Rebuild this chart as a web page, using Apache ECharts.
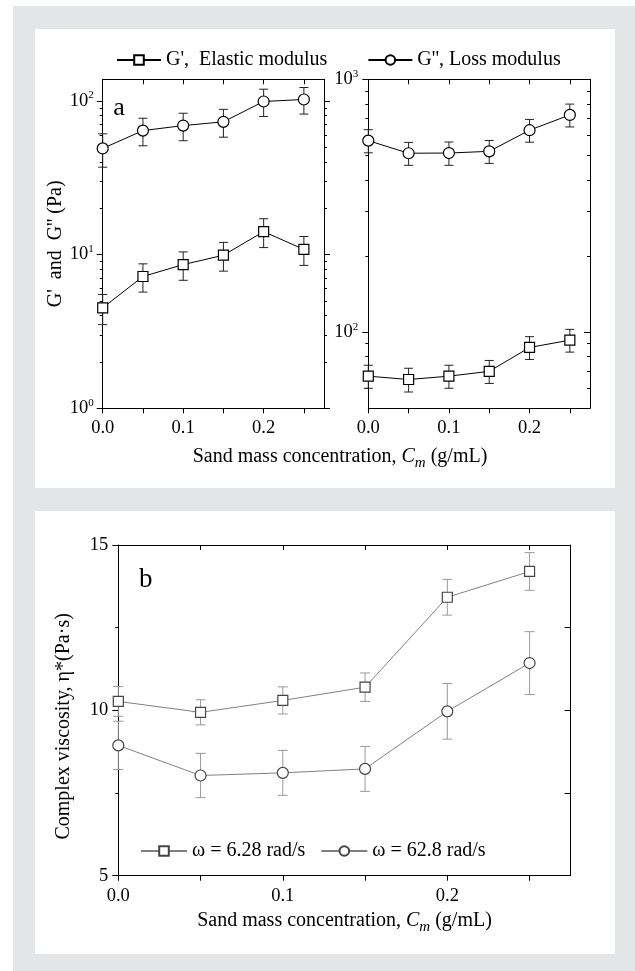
<!DOCTYPE html>
<html>
<head>
<meta charset="utf-8">
<script src="https://cdn.jsdelivr.net/npm/echarts@6/dist/echarts.min.js"></script>
<style>
html,body{margin:0;padding:0;background:#fff;width:635px;height:971px;overflow:hidden;}
#bg{position:absolute;left:13px;top:6px;right:0;bottom:0;background:#e4e5e7;}
.panel{position:absolute;left:35px;width:580px;background:#fff;}
#pa{top:29px;height:459px;}
#pb{top:511px;height:443px;}
#chart{position:absolute;left:0;top:0;width:635px;height:971px;}
</style>
</head>
<body>
<div id="bg"></div>
<div class="panel" id="pa"></div>
<div class="panel" id="pb"></div>
<div id="chart"></div>
<script>
// ---------- data ----------
const concentrations = [0, 0.05, 0.1, 0.15, 0.2, 0.25];

// Panel a, left plot
const gPrimeLeft = [4.5, 7.2, 8.6, 9.9, 14.1, 10.8];
const gPrimeLeftErr = [1.0, 1.5, 1.8, 2.1, 3.0, 2.3];
const gDoubleLeft = [49, 64, 69, 73, 99, 102];
const gDoubleLeftErr = [12, 13, 14, 15, 20, 20];

// Panel a, right plot
const gPrimeRight = [67, 65, 67, 70, 87, 93];
const gPrimeRightErr = [7, 7, 7, 7.3, 9, 9.6];
const gDoubleRight = [572, 510, 511, 519, 629, 723];
const gDoubleRightErr = [60, 53, 54, 54, 65, 75];

// Panel b
const etaLow = [10.27, 9.94, 10.30, 10.70, 13.42, 14.20];
const etaLowErr = [0.45, 0.38, 0.41, 0.43, 0.54, 0.57];
const etaHigh = [8.94, 8.03, 8.11, 8.23, 9.97, 11.43];
const etaHighErr = [0.73, 0.67, 0.68, 0.68, 0.84, 0.95];

// Ticks and labels
const xTickValues = [0, 0.05, 0.1, 0.15, 0.2, 0.25];
const xLabelValues = [0, 0.1, 0.2];
const xRange = [0, 0.275];
const leftLogRange = [1, 138];
const rightLogRange = [50, 1000];
const leftDecadeExponents = [0, 1, 2];
const rightDecadeExponents = [2, 3];
const leftMinorTicks = [2, 3, 4, 5, 6, 7, 8, 9, 20, 30, 40, 50, 60, 70, 80, 90];
const rightMinorTicks = [60, 70, 80, 90, 200, 300, 400, 500, 600, 700, 800, 900];
const etaRange = [5, 15];
const etaInterval = 5;

const NAME_GP = "G',  Elastic modulus";
const NAME_GDP = "G'', Loss modulus";
const NAME_W1 = 'ω = 6.28 rad/s';
const NAME_W2 = 'ω = 62.8 rad/s';

// ---------- helpers ----------
const FONT = "'Liberation Serif', 'Times New Roman', serif";
const BLACK = '#000';
const TICK_FS = 18.5;

function pairs(xs, ys) { return xs.map((x, i) => [x, ys[i]]); }
function errData(xs, ys, es) { return xs.map((x, i) => [x, ys[i] - es[i], ys[i] + es[i]]); }

function errRender(capHalf, color) {
  return function (params, api) {
    const x = api.value(0);
    const lo = api.coord([x, api.value(1)]);
    const hi = api.coord([x, api.value(2)]);
    const style = { stroke: color, lineWidth: 1, fill: null };
    return {
      type: 'group',
      children: [
        { type: 'line', shape: { x1: lo[0], y1: lo[1], x2: hi[0], y2: hi[1] }, style: style },
        { type: 'line', shape: { x1: lo[0] - capHalf, y1: lo[1], x2: lo[0] + capHalf, y2: lo[1] }, style: style },
        { type: 'line', shape: { x1: hi[0] - capHalf, y1: hi[1], x2: hi[0] + capHalf, y2: hi[1] }, style: style }
      ]
    };
  };
}

const axisLineStyle = { color: BLACK, width: 1 };

function xAxesFor(gridIndex, labelMargin, extra) {
  const bottom = Object.assign({
    type: 'value', gridIndex: gridIndex, position: 'bottom',
    min: xRange[0], max: xRange[1],
    axisLine: { show: true, onZero: false, lineStyle: axisLineStyle },
    axisTick: { show: true, inside: false, length: 5, customValues: xTickValues, lineStyle: { color: BLACK } },
    axisLabel: { customValues: xLabelValues, formatter: v => v.toFixed(1), margin: labelMargin,
      color: BLACK, fontFamily: FONT, fontSize: TICK_FS },
    splitLine: { show: false }
  }, extra || {});
  const top = {
    type: 'value', gridIndex: gridIndex, position: 'top',
    min: xRange[0], max: xRange[1],
    axisLine: { show: true, onZero: false, lineStyle: axisLineStyle },
    axisTick: { show: true, inside: true, length: 5, customValues: xTickValues, lineStyle: { color: BLACK } },
    axisLabel: { show: false },
    splitLine: { show: false }
  };
  return [bottom, top];
}

const supRich = {
  b: { fontSize: TICK_FS, fontFamily: FONT, color: BLACK, lineHeight: 22 },
  s: { fontSize: 11, fontFamily: FONT, color: BLACK, lineHeight: 11, verticalAlign: 'top' }
};

function logYAxesFor(gridIndex, range, exps, minors, rightInside, labelMargin, nameOpts) {
  const lmin = Math.log10(range[0]), lmax = Math.log10(range[1]);
  const minorVals = minors.map(v => Math.log10(v));
  const dataAxis = Object.assign({
    type: 'log', logBase: 10, gridIndex: gridIndex, position: 'left',
    min: range[0], max: range[1],
    axisLine: { show: true, onZero: false, lineStyle: axisLineStyle },
    axisTick: { show: false }, axisLabel: { show: false }, splitLine: { show: false }
  }, nameOpts || {});
  const majorLeft = {
    type: 'value', gridIndex: gridIndex, position: 'left', min: lmin, max: lmax,
    axisLine: { show: false, onZero: false },
    axisTick: { show: true, inside: false, length: 6, customValues: exps, lineStyle: { color: BLACK } },
    axisLabel: { customValues: exps, margin: labelMargin, formatter: v => '{b|10}{s|' + Math.round(v) + '}', rich: supRich },
    splitLine: { show: false }
  };
  const minorLeft = {
    type: 'value', gridIndex: gridIndex, position: 'left', min: lmin, max: lmax,
    axisLine: { show: false, onZero: false },
    axisTick: { show: true, inside: false, length: 3, customValues: minorVals, lineStyle: { color: BLACK } },
    axisLabel: { show: false }, splitLine: { show: false }
  };
  const majorRight = {
    type: 'value', gridIndex: gridIndex, position: 'right', min: lmin, max: lmax,
    axisLine: { show: true, onZero: false, lineStyle: axisLineStyle },
    axisTick: { show: true, inside: rightInside, length: 6, customValues: exps, lineStyle: { color: BLACK } },
    axisLabel: { show: false }, splitLine: { show: false }
  };
  const minorRight = {
    type: 'value', gridIndex: gridIndex, position: 'right', min: lmin, max: lmax,
    axisLine: { show: false, onZero: false },
    axisTick: { show: true, inside: rightInside, length: 3, customValues: minorVals, lineStyle: { color: BLACK } },
    axisLabel: { show: false }, splitLine: { show: false }
  };
  return [dataAxis, majorLeft, minorLeft, majorRight, minorRight];
}

function lineSeries(name, xi, yi, ys, symbol, size, lineColor, borderColor) {
  return {
    type: 'line', name: name, xAxisIndex: xi, yAxisIndex: yi,
    data: pairs(concentrations, ys),
    symbol: symbol, symbolSize: size, showSymbol: true, showAllSymbol: true,
    lineStyle: { color: lineColor, width: 1 },
    itemStyle: { color: '#fff', borderColor: borderColor, borderWidth: 1.2 },
    emphasis: { disabled: true },
    z: 3
  };
}
function errSeries(name, xi, yi, ys, es, color, capHalf) {
  return {
    type: 'custom', name: name, xAxisIndex: xi, yAxisIndex: yi,
    data: errData(concentrations, ys, es),
    encode: { x: 0, y: [1, 2] },
    renderItem: errRender(capHalf, color),
    silent: true, z: 1
  };
}

const nameRich = {
  t: { fontSize: 20, fontFamily: FONT, lineHeight: 28 },
  i: { fontSize: 20, fontFamily: FONT, fontStyle: 'italic', lineHeight: 28 },
  sub: { fontSize: 15, fontFamily: FONT, fontStyle: 'italic', lineHeight: 15, verticalAlign: 'bottom' }
};
const xNameText = '{t|Sand mass concentration, }{i|C}{sub|m}{t| (g/mL)}';

// ---------- option ----------
const chart = echarts.init(document.getElementById('chart'), null, { renderer: 'canvas' });

const xAxis = []
  .concat(xAxesFor(0, 10))
  .concat(xAxesFor(1, 10))
  .concat(xAxesFor(2, 11, {
    name: xNameText, nameLocation: 'middle', nameGap: 31,
    nameTextStyle: { color: BLACK, rich: (function () {
      const r = {};
      Object.keys(nameRich).forEach(k => { r[k] = Object.assign({ color: BLACK }, nameRich[k]); });
      return r;
    })() }
  }));

const yAxis = []
  .concat(logYAxesFor(0, leftLogRange, leftDecadeExponents, leftMinorTicks, false, 9, {
    name: "G'  and  G'' (Pa)", nameLocation: 'middle', nameGap: 37,
    nameTextStyle: { color: BLACK, fontFamily: FONT, fontSize: 20 }
  }))
  .concat(logYAxesFor(1, rightLogRange, rightDecadeExponents, rightMinorTicks, true, 10, null))
  .concat([
    {
      type: 'value', gridIndex: 2, position: 'left', min: etaRange[0], max: etaRange[1], interval: etaInterval,
      axisLine: { show: true, onZero: false, lineStyle: axisLineStyle },
      axisTick: { show: true, inside: false, length: 6, lineStyle: { color: BLACK } },
      minorTick: { show: true, splitNumber: 2, length: 3, lineStyle: { color: BLACK } },
      axisLabel: { margin: 10, color: BLACK, fontFamily: FONT, fontSize: TICK_FS },
      splitLine: { show: false },
      name: 'Complex viscosity, η*(Pa·s)', nameLocation: 'middle', nameGap: 45,
      nameTextStyle: { color: BLACK, fontFamily: FONT, fontSize: 20, padding: [0, 32, 0, 0] }
    },
    {
      type: 'value', gridIndex: 2, position: 'right', min: etaRange[0], max: etaRange[1], interval: etaInterval,
      axisLine: { show: true, onZero: false, lineStyle: axisLineStyle },
      axisTick: { show: true, inside: true, length: 6, lineStyle: { color: BLACK } },
      minorTick: { show: true, splitNumber: 2, length: 6, lineStyle: { color: BLACK } },
      axisLabel: { show: false },
      splitLine: { show: false }
    }
  ]);

// y axis indices: grid0 data=0, grid1 data=5, grid2 left=10
const series = [
  errSeries('errGpL', 0, 0, gPrimeLeft, gPrimeLeftErr, '#222', 4.5),
  errSeries('errGdpL', 0, 0, gDoubleLeft, gDoubleLeftErr, '#222', 4.5),
  lineSeries(NAME_GP, 0, 0, gPrimeLeft, 'rect', 10, BLACK, BLACK),
  lineSeries(NAME_GDP, 0, 0, gDoubleLeft, 'circle', 11, BLACK, BLACK),

  errSeries('errGpR', 2, 5, gPrimeRight, gPrimeRightErr, '#222', 4.5),
  errSeries('errGdpR', 2, 5, gDoubleRight, gDoubleRightErr, '#222', 4.5),
  lineSeries(NAME_GP, 2, 5, gPrimeRight, 'rect', 10, BLACK, BLACK),
  lineSeries(NAME_GDP, 2, 5, gDoubleRight, 'circle', 11, BLACK, BLACK),

  errSeries('errW1', 4, 10, etaLow, etaLowErr, '#9a9a9a', 5),
  errSeries('errW2', 4, 10, etaHigh, etaHighErr, '#9a9a9a', 5),
  lineSeries(NAME_W1, 4, 10, etaLow, 'rect', 10, '#808080', '#444'),
  lineSeries(NAME_W2, 4, 10, etaHigh, 'circle', 11, '#808080', '#444')
];

const option = {
  animation: false,
  grid: [
    { left: 102.7, top: 79.3, width: 221.3, height: 329, containLabel: false },
    { left: 368.3, top: 79.3, width: 221.7, height: 329, containLabel: false },
    { left: 118.3, top: 545, width: 452.4, height: 330.7, containLabel: false }
  ],
  xAxis: xAxis,
  yAxis: yAxis,
  legend: [
    {
      data: [NAME_GP, NAME_GDP], left: 111, top: 45, orient: 'horizontal',
      itemWidth: 44, itemHeight: 12, itemGap: 40, selectedMode: false,
      textStyle: { color: BLACK, fontFamily: FONT, fontSize: 20 }
    },
    {
      data: [NAME_W1, NAME_W2], left: 135, top: 836, orient: 'horizontal',
      itemWidth: 46, itemHeight: 12, itemGap: 15, selectedMode: false,
      textStyle: { color: BLACK, fontFamily: FONT, fontSize: 20 }
    }
  ],
  graphic: [
    { type: 'text', x: 113.3, y: 108.2, style: { text: 'a', fill: BLACK, font: "26px 'Liberation Serif', serif", align: 'left', verticalAlign: 'middle' } },
    { type: 'text', x: 139, y: 579.8, style: { text: 'b', fill: BLACK, font: "27px 'Liberation Serif', serif", align: 'left', verticalAlign: 'middle' } },
    { type: 'text', x: 340, y: 456.7, style: {
        text: xNameText, fill: BLACK, align: 'center', verticalAlign: 'middle',
        fontFamily: FONT, fontSize: 20,
        rich: (function () {
          const r = {};
          Object.keys(nameRich).forEach(k => { r[k] = Object.assign({ fill: BLACK }, nameRich[k]); });
          return r;
        })()
      } }
  ],
  series: series
};
chart.setOption(option);
</script>
</body>
</html>
